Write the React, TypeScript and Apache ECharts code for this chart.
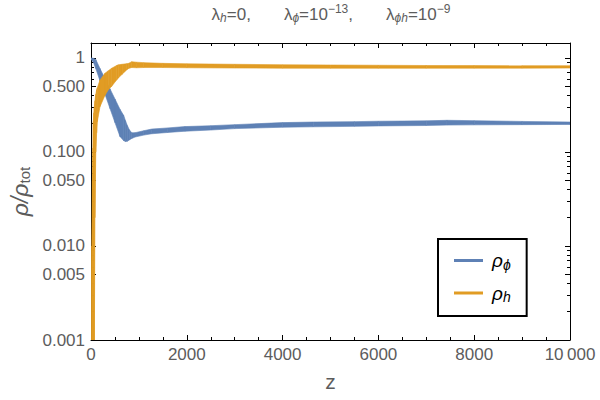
import React, { useEffect, useRef } from "react";
import * as echarts from "echarts";

// rho_phi band (upper / lower envelope of the oscillating curve)
const phiZ = [0, 50, 100, 188, 292, 397, 501, 605, 680, 720, 760, 800, 850, 919, 1100, 1267, 1600, 1962, 2500, 3000, 4000, 4640, 5500, 6000, 7000, 7430, 8000, 9000, 10000];
const phiUpper = [1.0, 0.99, 0.96, 0.77, 0.6, 0.468, 0.365, 0.284, 0.245, 0.215, 0.19, 0.172, 0.16, 0.16, 0.168, 0.175, 0.18, 0.186, 0.19, 0.195, 0.205, 0.208, 0.21, 0.212, 0.214, 0.217, 0.215, 0.211, 0.208];
const phiLower = [0.97, 0.9, 0.77, 0.57, 0.41, 0.289, 0.205, 0.146, 0.132, 0.129, 0.13, 0.134, 0.139, 0.144, 0.151, 0.156, 0.161, 0.166, 0.171, 0.177, 0.183, 0.185, 0.187, 0.189, 0.191, 0.193, 0.194, 0.195, 0.196];

// rho_h band
const hZ = [0, 15, 30, 40, 48, 60, 70, 83, 100, 118, 132, 188, 292, 362, 432, 536, 570, 650, 745, 780, 850, 950, 1100, 1500, 2000, 3000, 4000, 5000, 6000, 7000, 8000, 9000, 10000];
const hUpper = [0.001, 0.01, 0.05, 0.11, 0.21, 0.26, 0.3, 0.35, 0.41, 0.457, 0.48, 0.583, 0.687, 0.73, 0.776, 0.83, 0.843, 0.855, 0.868, 0.873, 0.91, 0.9, 0.89, 0.875, 0.865, 0.855, 0.845, 0.84, 0.835, 0.83, 0.828, 0.826, 0.825];
const hLower = [0.001, 0.001, 0.001, 0.001, 0.001, 0.001, 0.001, 0.02, 0.1, 0.16, 0.21, 0.303, 0.4, 0.457, 0.5, 0.583, 0.61, 0.67, 0.745, 0.77, 0.79, 0.785, 0.79, 0.79, 0.785, 0.78, 0.777, 0.776, 0.776, 0.776, 0.777, 0.778, 0.78];

const xTicks = [0, 2000, 4000, 6000, 8000, 10000];
const xTickLabels = ["0", "2000", "4000", "6000", "8000", "10\u2009000"];
const yMajorTicks = [0.001, 0.005, 0.01, 0.05, 0.1, 0.5, 1];
const yTickLabels = ["0.001", "0.005", "0.010", "0.050", "0.100", "0.500", "1"];
const yMinorTicks = [
  0.002, 0.003, 0.004, 0.006, 0.007, 0.008, 0.009,
  0.02, 0.03, 0.04, 0.06, 0.07, 0.08, 0.09,
  0.2, 0.3, 0.4, 0.6, 0.7, 0.8, 0.9,
];
const yMin = 0.001;
const yMax = 1.44;

const BLUE = "#5E81B5";
const ORANGE = "#E19C24";
const GRAY = "#5c5c5c";
const FONT = "Liberation Sans";

const t = (v: number) => Math.log10(v) - Math.log10(yMin);

function yLabel(v: number) {
  for (let i = 0; i < yMajorTicks.length; i++) {
    if (Math.abs(t(yMajorTicks[i]) - v) < 1e-6) return yTickLabels[i];
  }
  return "";
}

function xLabel(v: number) {
  const i = xTicks.indexOf(v);
  return i >= 0 ? xTickLabels[i] : "";
}

function bandSeries(name: string, zs: number[], up: number[], lo: number[], color: string, zl: number) {
  const data = zs.map((z, i) => [z, t(lo[i]), t(up[i])]);
  return {
    type: "custom",
    name,
    coordinateSystem: "cartesian2d",
    clip: true,
    silent: true,
    z: zl,
    itemStyle: { color },
    encode: { x: 0, y: [1, 2] },
    data,
    renderItem: (params: any, api: any) => {
      const i = params.dataIndex;
      if (i >= data.length - 1) return null;
      const a = data[i];
      const b = data[i + 1];
      const pts = [
        api.coord([a[0], a[2]]),
        api.coord([b[0], b[2]]),
        api.coord([b[0], b[1]]),
        api.coord([a[0], a[1]]),
      ];
      return {
        type: "polygon",
        shape: { points: pts },
        style: { fill: color, stroke: color, lineWidth: 0.6 },
      };
    },
  };
}

const xAxisBase = (pos: "bottom" | "top", labels: boolean) => ({
  type: "value",
  position: pos,
  min: 0,
  max: 10000,
  interval: 2000,
  axisLine: { show: true, onZero: false, lineStyle: { color: "#000", width: 1 } },
  axisTick: { show: true, inside: true, length: 5, lineStyle: { color: "#000" } },
  minorTick: { show: true, splitNumber: 4, length: 3, lineStyle: { color: "#000" } },
  axisLabel: {
    show: labels,
    formatter: xLabel,
    color: GRAY,
    fontSize: 17,
    fontFamily: FONT,
    margin: 6,
  },
  splitLine: { show: false },
  minorSplitLine: { show: false },
});

const yAxisBase = (pos: "left" | "right", major: boolean, labels: boolean) => ({
  type: "value",
  position: pos,
  min: 0,
  max: t(yMax),
  axisLine: { show: major, onZero: false, lineStyle: { color: "#000", width: 1 } },
  axisTick: {
    show: true,
    inside: true,
    length: major ? 5 : 3,
    customValues: (major ? yMajorTicks : yMinorTicks).map(t),
    lineStyle: { color: "#000" },
  },
  axisLabel: {
    show: labels,
    customValues: yMajorTicks.map(t),
    formatter: yLabel,
    color: GRAY,
    fontSize: 17,
    fontFamily: FONT,
    margin: 6,
  },
  splitLine: { show: false },
});

export default function App() {
  const ref = useRef<HTMLDivElement>(null);
  useEffect(() => {
    if (!ref.current) return;
    const chart = echarts.init(ref.current, null, { renderer: "svg" });
    const yLeft: any = yAxisBase("left", true, true);
    yLeft.name = "{a|ρ/ρ}{b|tot}";
    yLeft.nameLocation = "middle";
    yLeft.nameGap = 48;
    yLeft.nameRotate = 90;
    yLeft.nameTextStyle = {
      rich: {
        a: { fontSize: 23, fontStyle: "italic", color: GRAY, fontFamily: FONT },
        b: { fontSize: 15, color: GRAY, fontFamily: FONT, padding: [9, 0, 0, 0] },
      },
    };
    const xBottom: any = xAxisBase("bottom", true);
    xBottom.name = "z";
    xBottom.nameLocation = "middle";
    xBottom.nameGap = 31;
    xBottom.nameTextStyle = { fontSize: 21, color: GRAY, fontFamily: FONT };

    chart.setOption({
      animation: false,
      grid: { left: 91, right: 30, top: 43, bottom: 60, containLabel: false },
      xAxis: [xBottom, xAxisBase("top", false)],
      yAxis: [
        yLeft,
        yAxisBase("left", false, false),
        yAxisBase("right", true, false),
        yAxisBase("right", false, false),
      ],
      legend: {
        data: ["phi", "h"],
        orient: "vertical",
        left: 438,
        top: 239,
        padding: [12, 16, 12, 16],
        itemGap: 12,
        icon: "rect",
        itemWidth: 29,
        itemHeight: 3,
        borderColor: "#000",
        borderWidth: 2,
        backgroundColor: "#fff",
        selectedMode: false,
        formatter: (name: string) => (name === "phi" ? "{r|ρ}{s|ϕ}" : "{r|ρ}{s|h}"),
        textStyle: {
          rich: {
            r: { fontSize: 19, fontStyle: "italic", color: "#000", fontFamily: FONT, lineHeight: 22, padding: [0, 0, 0, 4] },
            s: { fontSize: 14, fontStyle: "italic", color: "#000", fontFamily: FONT, padding: [8, 0, 0, 0] },
          },
        },
      },
      graphic: [
        {
          type: "text",
          x: 331,
          y: 14,
          style: {
            text: "{l|λ}{i|h}{n|=0,       }{l|λ}{i|ϕ}{n|=10}{p|−13}{n|,       }{l|λ}{i|ϕh}{n|=10}{p|−9}",
            align: "center",
            verticalAlign: "middle",
            rich: {
              l: { fontSize: 17, fill: GRAY, fontFamily: FONT },
              n: { fontSize: 17, fill: GRAY, fontFamily: FONT },
              i: { fontSize: 12, fill: GRAY, fontFamily: FONT, fontStyle: "italic", padding: [8, 0, 0, 0] },
              p: { fontSize: 12, fill: GRAY, fontFamily: FONT, padding: [0, 0, 10, 0] },
            },
          },
        },
      ],
      series: [
        bandSeries("phi", phiZ, phiUpper, phiLower, BLUE, 2),
        bandSeries("h", hZ, hUpper, hLower, ORANGE, 3),
      ],
    });
    return () => chart.dispose();
  }, []);
  return (
    <div
      ref={ref}
      style={{ position: "absolute", left: 0, top: 0, width: 600, height: 400 }}
    />
  );
}
